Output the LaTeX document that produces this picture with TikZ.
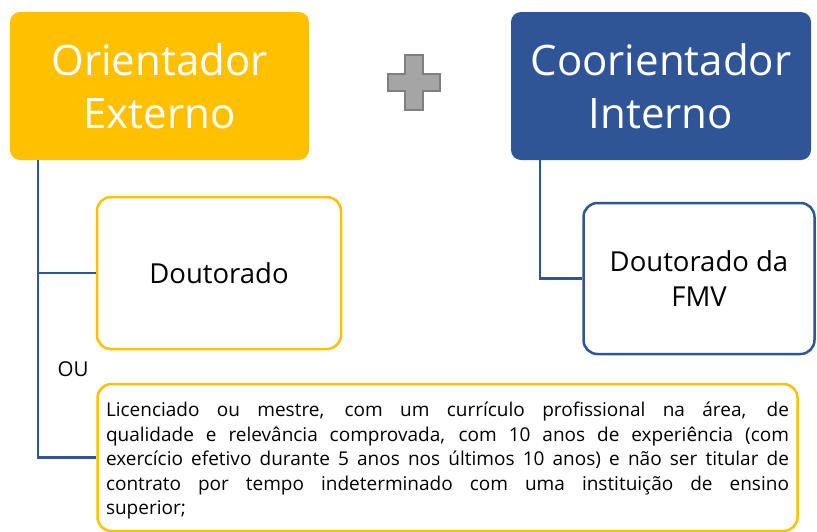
\documentclass[tikz,border=0pt]{standalone}
\usepackage{fontspec}
\setmainfont{Open Sans}
\usetikzlibrary{calc}
\definecolor{gold}{HTML}{FFC000}
\definecolor{navy}{HTML}{2F5597}
\definecolor{plusfill}{HTML}{A5A5A5}
\definecolor{plusline}{HTML}{7F7F7F}
\tikzset{
  titlebox/.style={rounded corners=10pt, text=white, align=center, inner sep=0pt,
    font=\fontsize{42}{53}\selectfont},
  subbox/.style={rounded corners=14pt, fill=white, line width=2.5pt, align=center,
    inner sep=0pt, font=\fontsize{27.5}{35}\selectfont},
  conn/.style={draw=navy, line width=2.2pt},
  plusshape/.style={fill=plusfill, draw=plusline, line width=1.5pt}
}
\begin{document}
\begin{tikzpicture}[x=1pt,y=-1pt]
\useasboundingbox (0,0) rectangle (817,531);
\node[titlebox, fill=gold, minimum width=299pt, minimum height=148pt] (orange) at (159.5,86) {Orientador\\Externo};
\node[titlebox, fill=navy, minimum width=300pt, minimum height=148pt] (blue) at (661,86) {Coorientador\\Interno};
\path[plusshape] (405,55) -- (423,55) -- (423,74) -- (440,74) -- (440,91) -- (423,91)
  -- (423,110) -- (405,110) -- (405,91) -- (388,91) -- (388,74) -- (405,74) -- cycle;
\node[subbox, draw=gold, minimum width=244pt, minimum height=152pt] (doc) at (219,273) {Doutorado};
\node[subbox, draw=navy, minimum width=231pt, minimum height=151pt] (fmv) at (699,278.5) {Doutorado da\\FMV};
\node[font=\fontsize{20.5}{24}\selectfont, inner sep=0pt] (ou) at (73,369) {OU};
\node[draw=gold, line width=2.5pt, fill=white, rounded corners=14pt, inner xsep=8.5pt, inner ysep=0pt] (lic) at (447.5,457.5)
{\begin{minipage}[c][147pt][t]{683pt}\fontsize{19}{24.5}\selectfont\vspace*{18pt}%
Licenciado ou mestre, com um currículo profissional na área, de\linebreak
qualidade e relevância comprovada, com 10 anos de experiência (com\linebreak
exercício efetivo durante 5 anos nos últimos 10 anos) e não ser titular de\linebreak
contrato por tempo indeterminado com uma instituição de ensino\linebreak
superior;\end{minipage}};
\draw[conn] ($(orange.south west)+(28.5,0)$) |- (doc.west);
\draw[conn] ($(orange.south west)+(28.5,0)$) |- (lic.west);
\draw[conn] ($(blue.south west)+(29,0)$) |- (fmv.west);
\end{tikzpicture}
\end{document}
